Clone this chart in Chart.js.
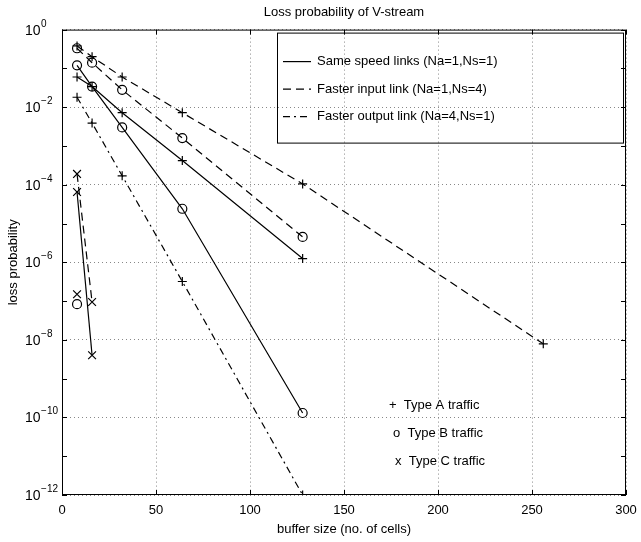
<!DOCTYPE html>
<html>
<head>
<meta charset="utf-8">
<script src="https://cdn.jsdelivr.net/npm/chart.js@4/dist/chart.umd.min.js"></script>
<style>
  html, body { margin: 0; padding: 0; background: #fff; }
</style>
</head>
<body>
<canvas id="chart" width="641" height="542"></canvas>
<script>
// ── Data ─────────────────────────────────────────────────────────
const bufShort = [8, 16];
const bufMid = [8, 16, 32, 64, 128];
const bufLong = [8, 16, 32, 64, 128, 256];
const bufSingle = [8];

// same speed links (Na=1,Ns=1)
const sameA = [6e-2, 3.4e-2, 7.2e-3, 4.2e-4, 1.25e-6];
const sameB = [0.12, 3.4e-2, 3.0e-3, 2.4e-5, 1.3e-10];
const sameC = [6.5e-5, 4e-9];
// faster input link (Na=1,Ns=4)
const inA = [0.38, 0.2, 6e-2, 7.2e-3, 1.05e-4, 7.9e-9];
const inB = [0.33, 0.14, 2.8e-2, 1.6e-3, 4.5e-6];
const inC = [1.9e-4, 9.5e-8];
// faster output link (Na=4,Ns=1)
const outA = [1.8e-2, 3.9e-3, 1.7e-4, 3.2e-7, 1e-12];
const outB = [8.3e-8];
const outC = [1.5e-7];

const xTicks = [0, 50, 100, 150, 200, 250, 300];
const yExps = [0, -1, -2, -3, -4, -5, -6, -7, -8, -9, -10, -11, -12];

const lineLegend = ['Same speed links (Na=1,Ns=1)', 'Faster input link (Na=1,Ns=4)', 'Faster output link (Na=4,Ns=1)'];
const markLegend = ['+  Type A traffic', 'o  Type B traffic', 'x  Type C traffic'];

const FONT = '"Liberation Sans", Arial, sans-serif';
const SOLID = [], DASH = [8, 5], DASHDOT = [7, 4, 2, 4];

const mk = (xs, ys, dash, style, line = true) => ({
  data: xs.map((x, i) => ({ x, y: ys[i] })),
  showLine: line,
  borderColor: '#000',
  backgroundColor: 'rgba(0,0,0,0)',
  borderWidth: 1.2,
  borderDash: dash,
  pointStyle: style,
  pointRadius: style === 'crossRot' ? 5.5 : 4.5,
  pointBorderWidth: 1.2,
  pointBorderColor: '#000',
  pointBackgroundColor: 'rgba(0,0,0,0)'
});

// frame, inward ticks, y labels (10^n) and both legends
const framePlugin = {
  id: 'frame',
  afterDatasetsDraw(chart) {
    const { ctx, chartArea: a, scales: { x, y } } = chart;
    ctx.save();
    ctx.strokeStyle = '#000';
    ctx.fillStyle = '#000';
    ctx.lineWidth = 1;
    ctx.setLineDash([]);
    ctx.strokeRect(a.left + .5, a.top + .5, a.right - a.left - 1, a.bottom - a.top - 1);

    const tl = 5;
    ctx.beginPath();
    xTicks.forEach(v => {
      const px = Math.round(x.getPixelForValue(v)) + .5;
      ctx.moveTo(px, a.bottom); ctx.lineTo(px, a.bottom - tl);
      ctx.moveTo(px, a.top); ctx.lineTo(px, a.top + tl);
    });
    yExps.forEach(e => {
      const py = Math.round(y.getPixelForValue(Math.pow(10, e))) + .5;
      ctx.moveTo(a.left, py); ctx.lineTo(a.left + tl, py);
      ctx.moveTo(a.right, py); ctx.lineTo(a.right - tl, py);
    });
    ctx.stroke();

    // y tick labels, 10 with a raised exponent
    ctx.textBaseline = 'alphabetic';
    ctx.textAlign = 'left';
    yExps.filter(e => e % 2 === 0).forEach(e => {
      const py = y.getPixelForValue(Math.pow(10, e));
      ctx.font = '14px ' + FONT;
      ctx.fillText('10', 25, py + 5);
      const w = ctx.measureText('10').width;
      ctx.font = '10px ' + FONT;
      ctx.fillText(String(e).replace('-', '\u2212'), 25 + w + 0.5, py - 3);
    });

    // y axis title
    ctx.save();
    ctx.translate(13, (a.top + a.bottom) / 2);
    ctx.rotate(-Math.PI / 2);
    ctx.font = '13px ' + FONT;
    ctx.textAlign = 'center';
    ctx.textBaseline = 'middle';
    ctx.fillText('loss probability', 0, 0);
    ctx.restore();

    // line style legend
    const bx = a.right - 349, by = a.top + 3;
    ctx.strokeRect(bx + .5, by + .5, 346, 110);
    ctx.font = '13px ' + FONT;
    ctx.textAlign = 'left';
    ctx.textBaseline = 'middle';
    [SOLID, DASH, DASHDOT].forEach((d, i) => {
      const ly = by + 29 + i * 27.5;
      ctx.setLineDash(d);
      ctx.lineWidth = 1.2;
      ctx.beginPath();
      ctx.moveTo(bx + 6, ly); ctx.lineTo(bx + 34, ly);
      ctx.stroke();
      ctx.fillText(lineLegend[i], bx + 40, ly);
    });
    ctx.setLineDash([]);

    // marker legend
    const mx = [389, 393, 395];
    markLegend.forEach((t, i) => {
      ctx.fillText(t, mx[i], 405 + i * 28);
    });
    ctx.restore();
  }
};

new Chart(document.getElementById('chart'), {
  type: 'scatter',
  data: {
    datasets: [
      mk(bufMid, sameA, SOLID, 'cross'),
      mk(bufMid, sameB, SOLID, 'circle'),
      mk(bufShort, sameC, SOLID, 'crossRot'),
      mk(bufLong, inA, DASH, 'cross'),
      mk(bufMid, inB, DASH, 'circle'),
      mk(bufShort, inC, DASH, 'crossRot'),
      mk(bufMid, outA, DASHDOT, 'cross'),
      mk(bufSingle, outB, DASHDOT, 'circle', false),
      mk(bufSingle, outC, DASHDOT, 'crossRot', false)
    ]
  },
  options: {
    responsive: false,
    animation: false,
    devicePixelRatio: 1,
    layout: { padding: { left: 0, right: 15, top: 0, bottom: 0 } },
    plugins: {
      legend: { display: false },
      tooltip: { enabled: false },
      title: {
        display: true,
        fullSize: false,
        text: 'Loss probability of V-stream',
        color: '#000',
        font: { family: FONT, size: 13, weight: 'normal' },
        padding: { top: 5, bottom: 9 }
      }
    },
    scales: {
      x: {
        type: 'linear',
        min: 0,
        max: 300,
        afterBuildTicks: s => { s.ticks = xTicks.map(v => ({ value: v })); },
        afterFit: s => { s.height = 47; s.paddingRight = 0; s.paddingLeft = 0; },
        ticks: { color: '#000', font: { family: FONT, size: 13 }, padding: 8, maxRotation: 0 },
        grid: { color: '#888', lineWidth: 1, drawTicks: false },
        border: { display: false, dash: [1, 3] },
        title: {
          display: true,
          text: 'buffer size (no. of cells)',
          color: '#000',
          font: { family: FONT, size: 13 },
          padding: { top: 2, bottom: 5 }
        }
      },
      y: {
        type: 'logarithmic',
        min: 1e-12,
        max: 1,
        afterBuildTicks: s => { s.ticks = yExps.map(e => ({ value: Math.pow(10, e) })); },
        afterFit: s => { s.width = 62; },
        ticks: { display: false, autoSkip: false },
        grid: {
          color: c => {
            const e = Math.round(Math.log10(c.tick.value));
            return e % 2 === 0 ? '#888' : 'rgba(0,0,0,0)';
          },
          lineWidth: 1,
          drawTicks: false
        },
        border: { display: false, dash: [1, 3] }
      }
    }
  },
  plugins: [framePlugin]
});
</script>
</body>
</html>
